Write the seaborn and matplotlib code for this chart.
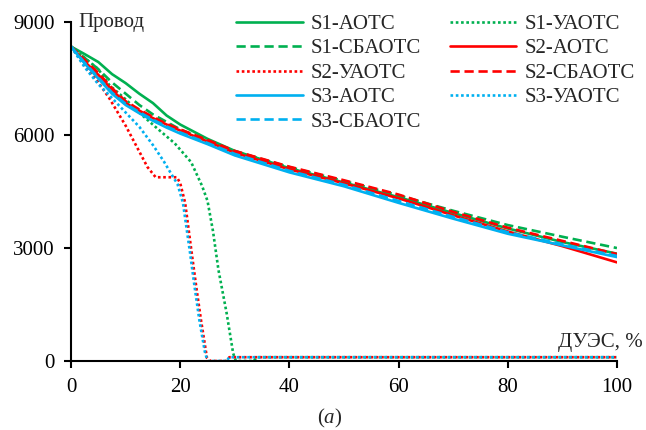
import matplotlib
matplotlib.use("Agg")
import matplotlib.pyplot as plt
import seaborn as sns
import pandas as pd

# ---- data ----
x_main = [0, 2.5, 5, 7.5, 10, 12.5, 15, 17.5, 20, 25, 30, 40, 50, 60, 70, 80, 90, 100]
s1_aotc   = [8350, 8150, 7940, 7620, 7380, 7100, 6850, 6520, 6280, 5900, 5580, 5120, 4740, 4350, 3930, 3520, 3160, 2850]
s1_sbaotc = [8350, 8050, 7750, 7400, 7100, 6800, 6550, 6350, 6150, 5850, 5570, 5150, 4780, 4400, 3990, 3610, 3300, 3000]
s2_aotc   = [8350, 7950, 7600, 7200, 6850, 6650, 6450, 6280, 6120, 5830, 5530, 5090, 4720, 4320, 3870, 3440, 3050, 2620]
s2_sbaotc = [8350, 8000, 7650, 7250, 6900, 6680, 6480, 6300, 6150, 5870, 5580, 5160, 4800, 4420, 3960, 3540, 3190, 2840]
s3_aotc   = [8350, 7900, 7500, 7100, 6800, 6580, 6380, 6200, 6040, 5760, 5460, 5010, 4640, 4200, 3780, 3380, 3070, 2760]
s3_sbaotc = [8350, 7920, 7530, 7130, 6830, 6610, 6410, 6230, 6070, 5790, 5500, 5050, 4680, 4250, 3830, 3420, 3100, 2790]

x_s1_uaotc = [0, 5, 7, 10, 13, 16, 19, 22, 24, 25, 26, 27, 28.5, 29.7, 30.2, 33.5, 34, 100]
s1_uaotc   = [8350, 7750, 7330, 6950, 6530, 6150, 5780, 5280, 4650, 4250, 3450, 2420, 1270, 200, 0, 0, 100, 100]

x_s2_uaotc = [0, 2.5, 5, 7, 10, 12, 14, 15.5, 19.4, 20, 20.9, 22.1, 23, 23.8, 24.9, 25.5, 28.5, 29, 100]
s2_uaotc   = [8350, 7850, 7400, 6980, 6250, 5700, 5150, 4880, 4880, 4720, 4200, 2870, 1900, 1090, 80, 0, 0, 100, 100]

x_s3_uaotc = [0, 2.5, 5, 7, 10, 12.5, 15, 17, 18.7, 19.5, 20.5, 21.8, 22.6, 23.5, 24.5, 25, 28.5, 29, 100]
s3_uaotc   = [8350, 7800, 7350, 7060, 6600, 6220, 5735, 5300, 4885, 4700, 4200, 2870, 2000, 1090, 250, 0, 0, 100, 100]

x_ticks = [0, 20, 40, 60, 80, 100]
y_ticks = [0, 3000, 6000, 9000]

GREEN, RED, BLUE = "#00B050", "#FF0000", "#00B0F0"
SOLID, DASH, DOT = "-", (0, (3.5, 1.8)), (0, (1, 1))

series = [
    ("S1-АОТС",   x_main,     s1_aotc,   GREEN, SOLID),
    ("S1-УАОТС",  x_s1_uaotc, s1_uaotc,  GREEN, DOT),
    ("S1-СБАОТС", x_main,     s1_sbaotc, GREEN, DASH),
    ("S2-АОТС",   x_main,     s2_aotc,   RED,   SOLID),
    ("S2-УАОТС",  x_s2_uaotc, s2_uaotc,  RED,   DOT),
    ("S2-СБАОТС", x_main,     s2_sbaotc, RED,   DASH),
    ("S3-АОТС",   x_main,     s3_aotc,   BLUE,  SOLID),
    ("S3-УАОТС",  x_s3_uaotc, s3_uaotc,  BLUE,  DOT),
    ("S3-СБАОТС", x_main,     s3_sbaotc, BLUE,  DASH),
]

FS = 15

sns.set_style("ticks")
plt.rcParams["font.family"] = ["Liberation Serif", "DejaVu Serif"]
plt.rcParams["mathtext.fontset"] = "custom"
plt.rcParams["mathtext.it"] = "Liberation Serif:italic"
plt.rcParams["mathtext.rm"] = "Liberation Serif"

fig = plt.figure(figsize=(6.46, 4.30), dpi=100)
ax = fig.add_axes([0.110, 0.1605, 0.845, 0.788])

handles = {}
for name, xs, ys, col, ls in series:
    df = pd.DataFrame({"x": xs, "y": ys})
    sns.lineplot(data=df, x="x", y="y", ax=ax, color=col, linewidth=1.9,
                 linestyle=ls, sort=False, estimator=None, label=name)
    handles[name] = ax.get_lines()[-1]

ax.set_xlim(0, 100)
ax.set_ylim(0, 9000)
ax.set_xticks(x_ticks)
ax.set_yticks(y_ticks)
ax.set_xlabel("")
ax.set_ylabel("")
for s in ["top", "right"]:
    ax.spines[s].set_visible(False)
for s in ["left", "bottom"]:
    ax.spines[s].set_linewidth(1.5)
    ax.spines[s].set_color("black")
ax.tick_params(direction="out", length=5, width=1.5, labelsize=FS, colors="black", pad=7)

ax.text(0.013, 1.0, "Провод", transform=ax.transAxes, fontsize=FS, ha="left", va="center")
ax.text(1.048, 0.056, "ДУЭС, %", transform=ax.transAxes, fontsize=FS, ha="right", va="center")
fig.text(0.511, 0.026, "($\\mathit{a}$)", fontsize=FS, ha="center", va="center")

order = ["S1-АОТС", "S1-СБАОТС", "S2-УАОТС", "S3-АОТС", "S3-СБАОТС",
         "S1-УАОТС", "S2-АОТС", "S2-СБАОТС", "S3-УАОТС"]
leg = ax.legend([handles[n] for n in order], order, ncol=2, frameon=False,
                loc="upper left", bbox_to_anchor=(236 / 646, 1 - 14.5 / 430),
                bbox_transform=fig.transFigure, fontsize=FS,
                handlelength=3.2, handletextpad=0.4, columnspacing=1.35,
                labelspacing=0.23, borderpad=0, borderaxespad=0)

fig.savefig("out.png", dpi=100)
